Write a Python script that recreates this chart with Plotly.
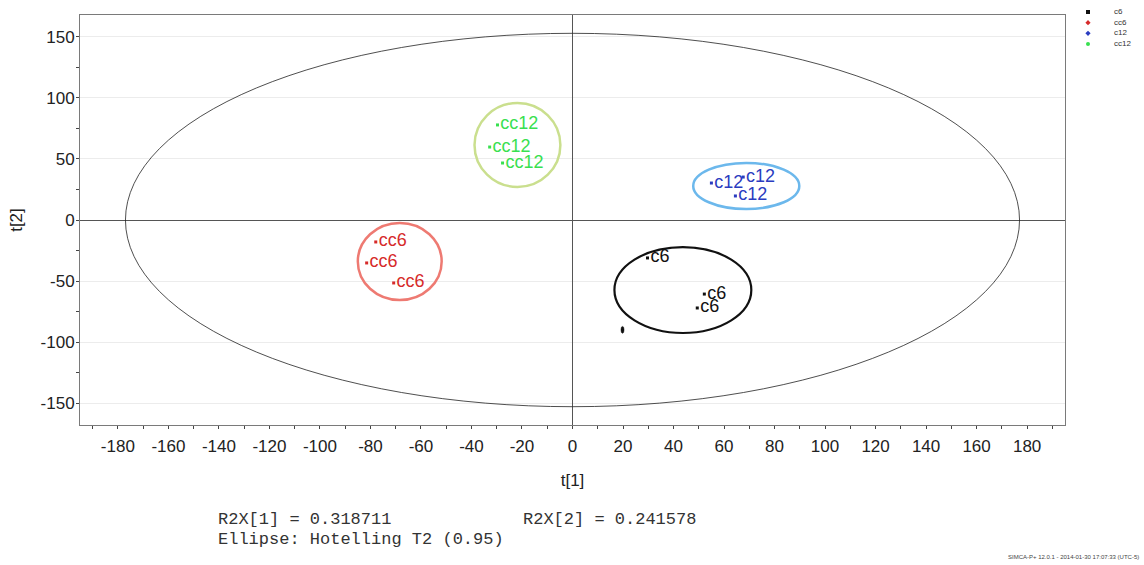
import plotly.graph_objects as go

# ---------------- data ----------------
groups = ["c6", "cc6", "c12", "cc12"]
c6_x = [29.7, 52.2, 49.4]
c6_y = [-31.1, -60.7, -72.1]
cc6_x = [-77.9, -81.5, -70.8]
cc6_y = [-18.0, -35.2, -51.6]
c12_x = [55.0, 67.6, 64.5]
c12_y = [30.3, 35.2, 19.7]
cc12_x = [-29.7, -32.8, -27.7]
cc12_y = [77.9, 59.8, 46.7]

# group ellipses: centre x, centre y, radius x, radius y
circle_cx = [43.7, -68.4, 68.8, -21.8]
circle_cy = [-57.4, -34.0, 27.9, 61.5]
circle_rx = [27.1, 16.6, 21.0, 17.0]
circle_ry = [35.2, 31.6, 18.9, 34.4]

# Hotelling T2 (0.95) ellipse semi-axes
t2_a = 177.0
t2_b = 153.0

# small unlabeled mark
dot_x = 19.8
dot_y = -90.0

r2x_1 = "0.318711"
r2x_2 = "0.241578"

x_range = [-195, 195]
y_range = [-168, 168]
x_ticks = [-180, -160, -140, -120, -100, -80, -60, -40, -20, 0,
           20, 40, 60, 80, 100, 120, 140, 160, 180]
x_tick_labels = [str(v) for v in x_ticks]
y_ticks = [-150, -100, -50, 0, 50, 100, 150]
y_tick_labels = [str(v) for v in y_ticks]

# ---------------- styles ----------------
point_colors = ["#111111", "#d62a2a", "#2a3cc0", "#38e050"]
circle_colors = ["#111111", "#ee7a72", "#6cb8ec", "#cadf8e"]
legend_symbols = ["square", "diamond", "diamond", "circle"]

xs = [c6_x, cc6_x, c12_x, cc12_x]
ys = [c6_y, cc6_y, c12_y, cc12_y]

W, H = 1144, 565
ml, mr, mt, mb = 80, 4, 2, 140
pw = W - ml - mr
ph = H - mt - mb
plot_right = 1065
plot_top = 15

def px_x(p):
    return (p - ml) / pw

def px_y(p):
    return (H - mb - p) / ph

fig = go.Figure()

for i, g in enumerate(groups):
    fig.add_trace(go.Scatter(
        x=xs[i], y=ys[i], mode="markers+text",
        text=[g] * len(xs[i]), textposition="middle right",
        marker=dict(symbol="square", size=3, color=point_colors[i]),
        textfont=dict(family="Liberation Sans, Arial", size=18, color=point_colors[i]),
        showlegend=False, hoverinfo="x+y+text", cliponaxis=False,
    ))

# manual compact legend on its own small axis
fig.add_trace(go.Scatter(
    x=[0.2] * len(groups), y=list(range(len(groups))), mode="markers",
    marker=dict(symbol=legend_symbols, size=4, color=point_colors),
    xaxis="x2", yaxis="y2", showlegend=False, hoverinfo="skip",
))
fig.add_trace(go.Scatter(
    x=[0.6] * len(groups), y=list(range(len(groups))), mode="text",
    text=groups, textposition="middle right",
    textfont=dict(family="Liberation Sans, Arial", size=8, color="#333333"),
    xaxis="x2", yaxis="y2", showlegend=False, hoverinfo="skip", cliponaxis=False,
))

shapes = []
# Hotelling ellipse
shapes.append(dict(type="circle", xref="x", yref="y",
                   x0=-t2_a, x1=t2_a, y0=-t2_b, y1=t2_b,
                   line=dict(color="#222222", width=0.8), layer="above"))
for i in range(len(groups)):
    shapes.append(dict(type="circle", xref="x", yref="y",
                       x0=circle_cx[i] - circle_rx[i], x1=circle_cx[i] + circle_rx[i],
                       y0=circle_cy[i] - circle_ry[i], y1=circle_cy[i] + circle_ry[i],
                       line=dict(color=circle_colors[i], width=2.5 if i else 2.2),
                       layer="above"))
shapes.append(dict(type="circle", xref="x", yref="y",
                   x0=dot_x - 0.6, x1=dot_x + 0.6, y0=dot_y - 2.8, y1=dot_y + 2.8,
                   fillcolor="#111111", line=dict(color="#111111", width=0.5)))

tickfont = dict(family="Liberation Sans, Arial", size=17, color="#222222")

fig.update_layout(
    width=W, height=H,
    margin=dict(l=ml, r=mr, t=mt, b=mb),
    paper_bgcolor="white", plot_bgcolor="white",
    shapes=shapes,
    xaxis=dict(
        domain=[0, px_x(plot_right)], range=x_range,
        tickmode="array", tickvals=x_ticks, ticktext=x_tick_labels,
        showgrid=False, zeroline=True, zerolinecolor="#555555", zerolinewidth=1.3,
        ticks="outside", ticklen=3, tickcolor="#444444",
        minor=dict(tickmode="linear", tick0=0, dtick=10, ticks="outside", ticklen=3,
                   tickcolor="#444444", showgrid=False),
        showline=True, linecolor="#7a7a7a", linewidth=1, mirror=True,
        tickfont=tickfont, ticklabelstandoff=3,
        title=dict(text="t[1]", font=dict(family="Liberation Sans, Arial", size=17, color="#222222"),
                   standoff=18),
    ),
    xaxis3=dict(
        overlaying="x", matches="x", range=x_range, dtick=25, tick0=0,
        showgrid=True, gridcolor="#ececec", gridwidth=1, zeroline=False,
        showticklabels=False, ticks="", showline=False,
    ),
    yaxis=dict(
        domain=[0, px_y(plot_top)], range=y_range,
        tickmode="array", tickvals=y_ticks, ticktext=y_tick_labels,
        showgrid=True, gridcolor="#ececec", zeroline=True, zerolinecolor="#555555",
        zerolinewidth=1.3,
        ticks="outside", ticklen=3, tickcolor="#444444",
        minor=dict(tickmode="linear", tick0=0, dtick=25, ticks="outside", ticklen=3,
                   tickcolor="#444444", showgrid=False),
        showline=True, linecolor="#7a7a7a", linewidth=1, mirror=True,
        tickfont=tickfont, ticklabelstandoff=-2,
        title=dict(text="t[2]", font=dict(family="Liberation Sans, Arial", size=17, color="#222222"),
                   standoff=13),
    ),
    xaxis2=dict(domain=[px_x(1075), px_x(1140)], range=[0, 1], visible=False, fixedrange=True),
    yaxis2=dict(domain=[px_y(52), px_y(4)], range=[3.75, -0.75], visible=False, fixedrange=True),
    annotations=[
        dict(text="R2X[1] = " + r2x_1, xref="paper", yref="paper",
             x=px_x(216), y=px_y(519), xanchor="left", yanchor="middle", showarrow=False,
             font=dict(family="Liberation Mono, Courier New", size=17, color="#333333")),
        dict(text="R2X[2] = " + r2x_2, xref="paper", yref="paper",
             x=px_x(521), y=px_y(519), xanchor="left", yanchor="middle", showarrow=False,
             font=dict(family="Liberation Mono, Courier New", size=17, color="#333333")),
        dict(text="Ellipse: Hotelling T2 (0.95)", xref="paper", yref="paper",
             x=px_x(216), y=px_y(539), xanchor="left", yanchor="middle", showarrow=False,
             font=dict(family="Liberation Mono, Courier New", size=17, color="#333333")),
        dict(text="SIMCA-P+ 12.0.1 - 2014-01-30 17:07:33 (UTC-5)", xref="paper", yref="paper",
             x=px_x(1141), y=px_y(557), xanchor="right", yanchor="middle", showarrow=False,
             font=dict(family="Liberation Sans, Arial", size=6, color="#444444")),
    ],
    showlegend=False,
)

fig.write_html("out.html", config={"displayModeBar": False},
               post_script="document.body.style.margin='0';")
